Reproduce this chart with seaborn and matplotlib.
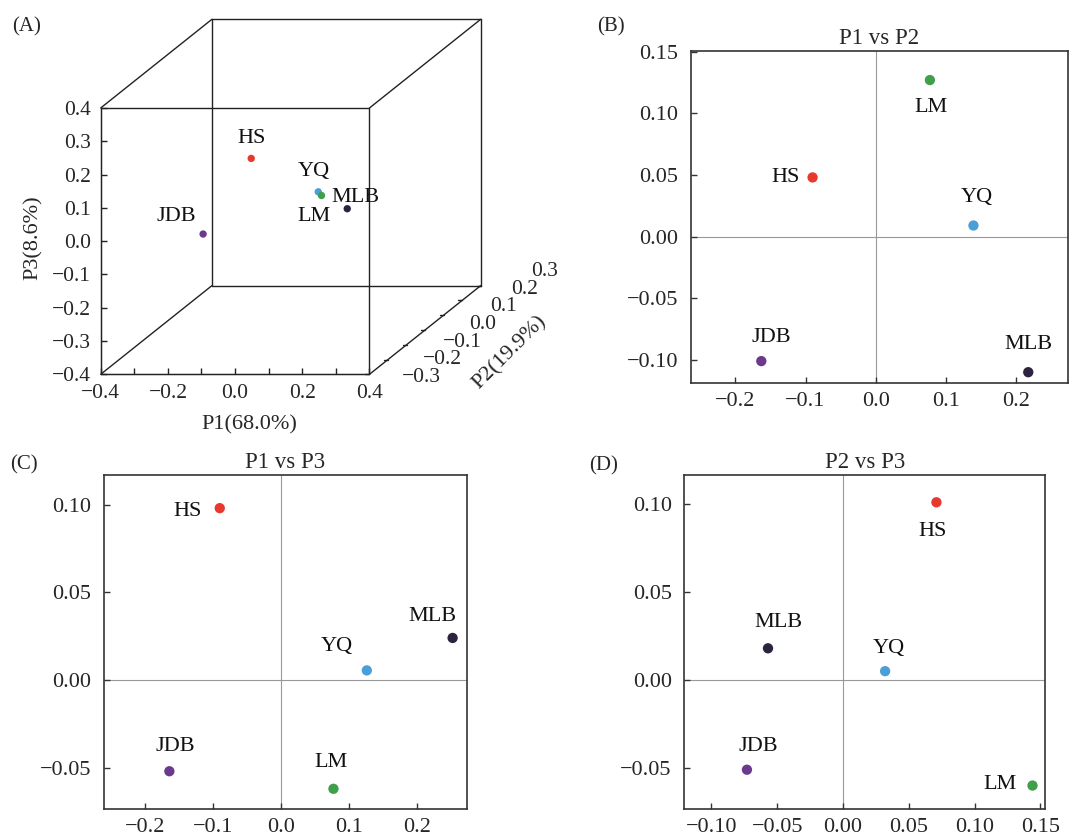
import numpy as np
import pandas as pd
import matplotlib
matplotlib.use("Agg")
import matplotlib.pyplot as plt
import seaborn as sns

# sample names and colours
samples = ["HS", "JDB", "YQ", "LM", "MLB"]
colors = ["#e8392e", "#6b3a8e", "#4b9ed6", "#3f9f4a", "#2b2340"]

# (A) 3D PCoA scores
a_p1 = [-0.144, -0.205, 0.077, 0.021, 0.229]
a_p2 = [0.048, -0.101, 0.009, 0.128, -0.110]
a_p3 = [0.094, -0.067, 0.011, -0.053, 0.013]

# (B) P1 vs P2
b_p1 = [-0.090, -0.163, 0.139, 0.077, 0.217]
b_p2 = [0.048, -0.101, 0.009, 0.127, -0.110]

# (C) P1 vs P3
c_p1 = [-0.090, -0.164, 0.126, 0.077, 0.252]
c_p3 = [0.098, -0.052, 0.0055, -0.062, 0.024]

# (D) P2 vs P3
d_p2 = [0.071, -0.073, 0.032, 0.144, -0.057]
d_p3 = [0.101, -0.051, 0.005, -0.060, 0.018]

# tick values / labels
a_p1_ticks = [-0.4, -0.2, 0.0, 0.2, 0.4]
a_p1_labels = ["\u22120.4", "\u22120.2", "0.0", "0.2", "0.4"]
a_p3_ticks = [-0.4, -0.3, -0.2, -0.1, 0.0, 0.1, 0.2, 0.3, 0.4]
a_p3_labels = ["\u22120.4", "\u22120.3", "\u22120.2", "\u22120.1", "0.0", "0.1", "0.2", "0.3", "0.4"]
a_p2_ticks = [-0.3, -0.2, -0.1, 0.0, 0.1, 0.2, 0.3]
a_p2_labels = ["\u22120.3", "\u22120.2", "\u22120.1", "0.0", "0.1", "0.2", "0.3"]
p1_ticks = [-0.2, -0.1, 0.0, 0.1, 0.2]
p1_labels = ["\u22120.2", "\u22120.1", "0.0", "0.1", "0.2"]
b_y_ticks = [-0.10, -0.05, 0.0, 0.05, 0.10, 0.15]
b_y_labels = ["\u22120.10", "\u22120.05", "0.00", "0.05", "0.10", "0.15"]
p3_ticks = [-0.05, 0.0, 0.05, 0.10]
p3_labels = ["\u22120.05", "0.00", "0.05", "0.10"]
d_x_ticks = [-0.10, -0.05, 0.0, 0.05, 0.10, 0.15]
d_x_labels = ["\u22120.10", "\u22120.05", "0.00", "0.05", "0.10", "0.15"]

# label offsets in pixels (right, up)
a_off = [(0, 20), (-27, 18), (-4, 20), (-7, -21), (8, 11)]
b_off = [(-27, 0), (10, 24), (3, 28), (1, -27), (0, 28)]
c_off = [(-32, -3), (6, 25), (-30, 24), (-2, 26), (-20, 21)]
d_off = [(-4, -29), (11, 23), (4, 23), (-32, 1), (10, 26)]

sns.set_style("ticks")
plt.rcParams['font.family'] = ['Liberation Serif', 'DejaVu Serif']

W, H = 1089, 838
fig = plt.figure(figsize=(W / 100, H / 100), dpi=100)
palette = dict(zip(samples, colors))
edge = "#222222"


def px_rect(left, top, right, bottom):
    return [left / W, 1 - bottom / H, (right - left) / W, (bottom - top) / H]


def labels(ax, xs, ys, offs, size=16):
    for name, x, y, (dx, dy) in zip(samples, xs, ys, offs):
        ax.annotate(name, (x, y), xytext=(dx, dy), textcoords="offset pixels",
                    ha="center", va="center", fontsize=size, color="#111111")


def panel2d(rect, xs, ys, offs, xlim, ylim, xt, xl, yt, yl, title):
    ax = fig.add_axes(px_rect(*rect))
    df = pd.DataFrame({"x": xs, "y": ys, "sample": samples})
    ax.axhline(0, color="#999999", lw=0.8, zorder=0)
    ax.axvline(0, color="#999999", lw=0.8, zorder=0)
    sns.scatterplot(data=df, x="x", y="y", hue="sample", palette=palette,
                    s=55, linewidth=0, legend=False, ax=ax, zorder=3)
    labels(ax, xs, ys, offs)
    ax.set_xlim(*xlim)
    ax.set_ylim(*ylim)
    ax.set_xticks(xt)
    ax.set_xticklabels(xl)
    ax.set_yticks(yt)
    ax.set_yticklabels(yl)
    ax.set_xlabel("")
    ax.set_ylabel("")
    ax.tick_params(direction="in", length=4, width=1, labelsize=16,
                   top=False, right=False, pad=6, color="#333333")
    ax.tick_params(axis="y", pad=9)
    for sp in ax.spines.values():
        sp.set_color("#333333")
        sp.set_linewidth(1.2)
    ax.set_title(title, fontsize=16.5, pad=5)
    return ax


# ---------- (A) oblique 3D box ----------
kx, ky = 0.5517, 0.4439   # depth shift per P2 unit (data units)
d0 = -0.3


def proj(p1, p2, p3):
    t = np.asarray(p2, dtype=float) - d0
    return np.asarray(p1, dtype=float) + kx * t, np.asarray(p3, dtype=float) + ky * t


axA = fig.add_axes(px_rect(100.7, 19.3, 480.7, 374.3))
axA.set_xlim(-0.4, 0.4 + kx * 0.6)
axA.set_ylim(-0.4, 0.4 + ky * 0.6)

lo, hi = -0.4, 0.4
for depth in (-0.3, 0.3):
    for b in (lo, hi):
        # edges along P1 and P3 on the front / back face
        x, y = proj([lo, hi], [depth, depth], [b, b])
        axA.plot(x, y, color=edge, lw=1.0, clip_on=False)
        x, y = proj([b, b], [depth, depth], [lo, hi])
        axA.plot(x, y, color=edge, lw=1.0, clip_on=False)
for a in (lo, hi):
    for b in (lo, hi):
        # edges along P2
        x, y = proj([a, a], [-0.3, 0.3], [b, b])
        axA.plot(x, y, color=edge, lw=1.0, clip_on=False)

xs, ys = proj(a_p1, a_p2, a_p3)
dfA = pd.DataFrame({"x": xs, "y": ys, "sample": samples})
sns.scatterplot(data=dfA, x="x", y="y", hue="sample", palette=palette,
                s=28, linewidth=0, legend=False, ax=axA, zorder=3)
labels(axA, xs, ys, a_off)

axA.spines["top"].set_visible(False)
axA.spines["right"].set_visible(False)
axA.spines["left"].set_bounds(-0.4, 0.4)
axA.spines["bottom"].set_bounds(-0.4, 0.4)
axA.spines["left"].set_color(edge)
axA.spines["bottom"].set_color(edge)
axA.set_xticks(a_p1_ticks)
axA.set_xticklabels(a_p1_labels)
axA.set_xticks([-0.3, -0.1, 0.1, 0.3], minor=True)
axA.set_yticks(a_p3_ticks)
axA.set_yticklabels(a_p3_labels)
axA.tick_params(which="both", direction="in", length=4, width=1, labelsize=15.5,
                color=edge, pad=7)
axA.set_xlabel("")
axA.set_ylabel("")

# P2 axis ticks along the diagonal edge
for i, (v, lab) in enumerate(zip(a_p2_ticks, a_p2_labels)):
    tx, ty = proj(0.4, v, -0.4)
    axA.plot([tx - 0.012, tx], [ty, ty], color=edge, lw=1.0, clip_on=False)
    axA.annotate(lab, (tx, ty), xytext=(52 + 2 * i, -3 + 2.8 * i),
                 textcoords="offset pixels", ha="center", va="center",
                 fontsize=15.5, annotation_clip=False)

fig.text(249 / W, 1 - 425 / H, "P1(68.0%)", ha="center", va="center", fontsize=16)
fig.text(33 / W, 1 - 238 / H, "P3(8.6%)", ha="center", va="center", fontsize=16, rotation=90)
fig.text(510 / W, 1 - 353 / H, "P2(19.9%)", ha="center", va="center", fontsize=16, rotation=45)

# ---------- (B), (C), (D) ----------
panel2d((690.7, 50.7, 1068.3, 383.3), b_p1, b_p2, b_off, (-0.2635, 0.274), (-0.119, 0.1508),
        p1_ticks, p1_labels, b_y_ticks, b_y_labels, "P1 vs P2")
panel2d((104, 475, 466.7, 809.3), c_p1, c_p3, c_off, (-0.26, 0.2727), (-0.0737, 0.1169),
        p1_ticks, p1_labels, p3_ticks, p3_labels, "P1 vs P3")
panel2d((684.3, 475, 1045, 809.3), d_p2, d_p3, d_off, (-0.1206, 0.1535), (-0.0735, 0.1165),
        d_x_ticks, d_x_labels, p3_ticks, p3_labels, "P2 vs P3")

for txt, x, y in [("(A)", 11.7, 26.5), ("(B)", 596.7, 27), ("(C)", 10, 465), ("(D)", 589, 466)]:
    fig.text(x / W, 1 - y / H, txt, ha="left", va="center", fontsize=15)

fig.savefig("out.png", dpi=100)
